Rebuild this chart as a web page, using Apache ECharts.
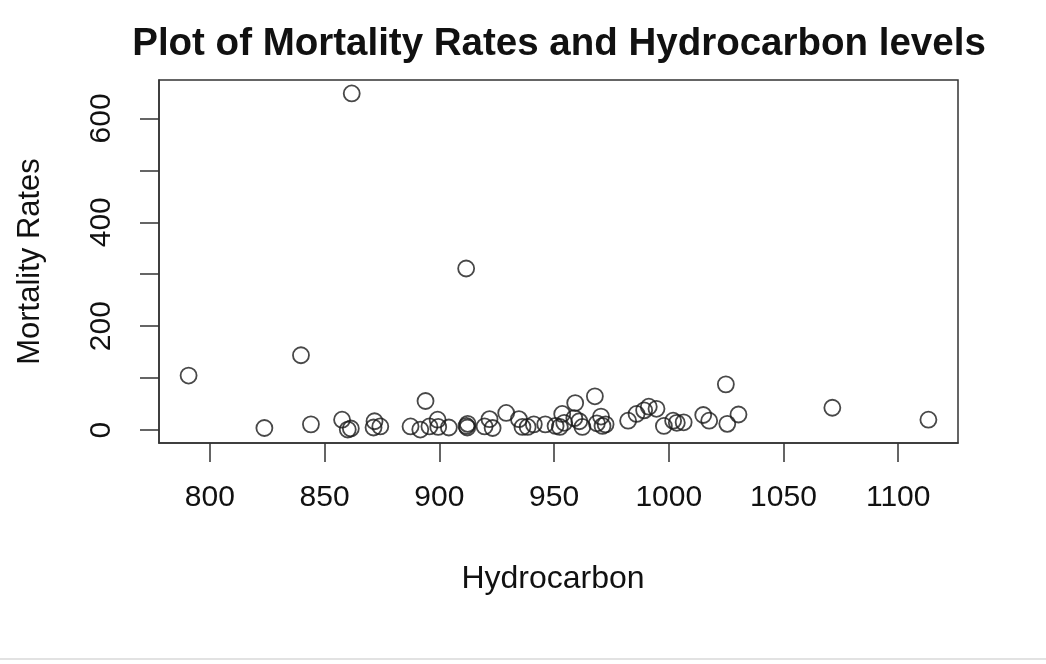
<!DOCTYPE html>
<html>
<head>
<meta charset="utf-8">
<script src="https://cdn.jsdelivr.net/npm/echarts@6/dist/echarts.min.js"></script>
<style>
html,body{margin:0;padding:0;background:#fff;}
#chart{width:1046px;height:664px;}
</style>
</head>
<body>
<div id="chart"></div>
<script>
// Mortality (x axis, labelled "Hydrocarbon") and hydrocarbon level (y axis, labelled "Mortality Rates")
const mortality = [921.870, 997.875, 962.354, 982.291, 1071.289, 1030.380, 934.700, 899.529, 1001.902, 912.347,
  1017.613, 1024.885, 970.467, 985.950, 958.839, 860.101, 936.234, 871.766, 959.221, 941.181,
  891.708, 871.338, 971.122, 887.466, 952.529, 968.665, 919.729, 844.053, 861.833, 989.265,
  1006.490, 861.439, 929.150, 857.622, 961.009, 923.234, 1113.156, 994.648, 1015.023, 991.290,
  893.991, 938.500, 946.185, 1025.502, 874.281, 953.560, 839.709, 911.701, 790.733, 899.264,
  904.155, 950.672, 972.464, 912.202, 967.803, 823.764, 1003.502, 895.696, 911.817, 954.442];
const hydrocarbon = [21, 8, 6, 18, 43, 30, 21, 6, 18, 12,
  18, 88, 26, 31, 23, 1, 6, 17, 52, 11,
  1, 5, 8, 7, 6, 13, 7, 11, 648, 38,
  15, 3, 33, 20, 17, 4, 20, 41, 29, 45,
  56, 6, 11, 12, 7, 31, 144, 311, 105, 20,
  5, 8, 11, 5, 65, 4, 14, 7, 8, 14];
const xTicks = [800, 850, 900, 950, 1000, 1050, 1100];
const yTicks = [0, 100, 200, 300, 400, 500, 600];
const yLabels = [0, 200, 400, 600];

const points = mortality.map((m, i) => [m, hydrocarbon[i]]);

const xMinD = Math.min(...mortality), xMaxD = Math.max(...mortality);
const yMinD = Math.min(...hydrocarbon), yMaxD = Math.max(...hydrocarbon);
const xPad = (xMaxD - xMinD) * 0.04, yPad = (yMaxD - yMinD) * 0.04;

const FONT = '"Liberation Sans", Arial, Helvetica, sans-serif';
const chart = echarts.init(document.getElementById('chart'), null, {renderer: 'canvas'});
chart.setOption({
  backgroundColor: '#fff',
  animation: false,
  title: {
    text: 'Plot of Mortality Rates and Hydrocarbon levels',
    left: 554, textAlign: 'center', top: 20,
    textStyle: {fontFamily: FONT, fontWeight: 'bold', fontSize: 38.5, color: '#111'}
  },
  grid: {left: 159, right: 88, top: 80, bottom: 221, show: true, borderColor: '#333', borderWidth: 1.5, backgroundColor: 'transparent'},
  xAxis: {
    type: 'value', min: xMinD - xPad, max: xMaxD + xPad,
    name: 'Hydrocarbon', nameLocation: 'middle', nameGap: 120,
    nameTextStyle: {fontFamily: FONT, fontSize: 32, color: '#111', padding: [0, 11, 0, 0]},
    splitLine: {show: false},
    axisLine: {show: true, onZero: false, lineStyle: {color: '#333', width: 1.5}},
    axisTick: {show: true, length: 19, lineStyle: {color: '#333', width: 1.5}, customValues: xTicks},
    axisLabel: {fontFamily: FONT, fontSize: 30, color: '#111', margin: 40, customValues: xTicks,
      formatter: v => String(v)}
  },
  yAxis: {
    type: 'value', min: yMinD - yPad, max: yMaxD + yPad,
    name: 'Mortality Rates', nameLocation: 'middle', nameGap: 113, nameRotate: 90,
    nameTextStyle: {fontFamily: FONT, fontSize: 31, color: '#111'},
    splitLine: {show: false},
    axisLine: {show: true, onZero: false, lineStyle: {color: '#333', width: 1.5}},
    axisTick: {show: true, length: 19, lineStyle: {color: '#333', width: 1.5}, customValues: yTicks},
    axisLabel: {fontFamily: FONT, fontSize: 30, color: '#111', margin: 42, rotate: 90, customValues: yLabels,
      formatter: v => String(v)}
  },
  series: [{
    type: 'scatter',
    data: points,
    symbol: 'circle',
    symbolSize: 16,
    itemStyle: {color: 'rgba(0,0,0,0)', borderColor: '#1a1a1a', borderWidth: 1.8},
    emphasis: {disabled: true}
  }],
  graphic: [{
    type: 'rect', left: 0, top: 658, shape: {width: 1046, height: 2}, style: {fill: '#e2e2e2'}
  }]
});
</script>
</body>
</html>
